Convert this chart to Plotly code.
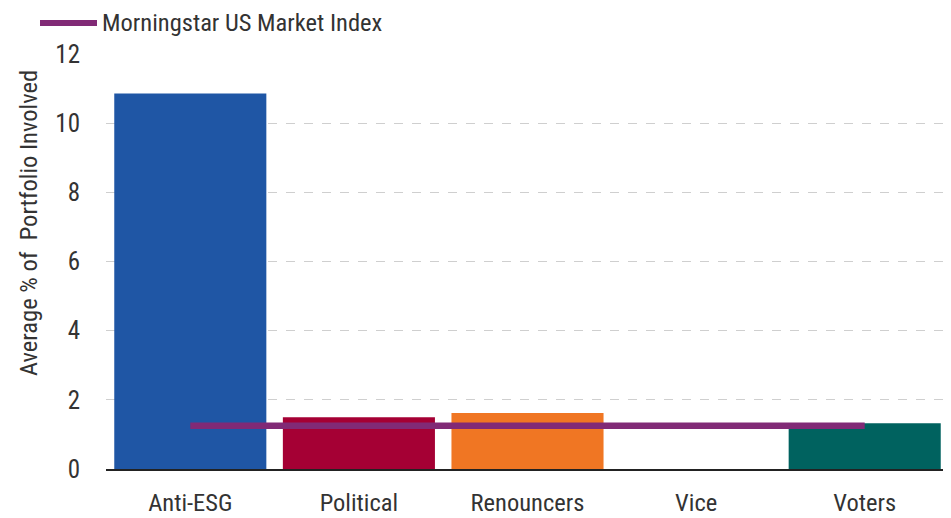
import plotly.graph_objects as go

categories = ["Anti-ESG", "Political", "Renouncers", "Vice", "Voters"]
portfolio_values = [10.86, 1.50, 1.62, 0.0, 1.32]
bar_colors = ["#1F56A5", "#A50034", "#F07623", "#FFFFFF", "#00625F"]
index_name = "Morningstar US Market Index"
index_values = [1.25, 1.25, 1.25, 1.25, 1.25]
y_ticks = [0, 2, 4, 6, 8, 10, 12]
y_title = "Average % of  Portfolio Involved"

FONT = "Liberation Sans Narrow, Roboto Condensed, DejaVu Sans Condensed, sans-serif"
TXT = "#333333"
LINE_COLOR = "#812A76"

# page body has an 8px margin, so the figure starts at (8, 8) in the window
OFF = 8
W, H = 951 - OFF, 518 - OFF
ML, MR, MT, MB = 106 - OFF, 2, 54 - OFF, 49
PW, PH = W - ML - MR, H - MT - MB

def px_x(p):
    return (p - OFF - ML) / PW

def px_y(p):
    return (H - MB - (p - OFF)) / PH

fig = go.Figure()
fig.add_trace(go.Bar(
    x=categories, y=portfolio_values, marker=dict(color=bar_colors, line=dict(width=0)),
    showlegend=False, hoverinfo="x+y"))
fig.add_trace(go.Scatter(
    x=categories, y=index_values, mode="lines", name=index_name, showlegend=False,
    line=dict(color=LINE_COLOR, width=6.5)))

# manual legend (line sample + label)
fig.add_shape(type="line", xref="paper", yref="paper",
              x0=px_x(40), x1=px_x(97), y0=px_y(23), y1=px_y(23),
              line=dict(color=LINE_COLOR, width=6))
fig.add_annotation(text=index_name, xref="paper", yref="paper",
                   x=px_x(100), y=px_y(22), xanchor="left", yanchor="middle",
                   showarrow=False, font=dict(family=FONT, size=24.5, color=TXT))
# y axis title
fig.add_annotation(text=y_title, xref="paper", yref="paper",
                   x=px_x(28), y=px_y(223), xanchor="center", yanchor="middle",
                   textangle=-90, showarrow=False,
                   font=dict(family=FONT, size=24.5, color=TXT))

fig.update_layout(
    width=W, height=H,
    margin=dict(l=ML, r=MR, t=MT, b=MB, autoexpand=False),
    paper_bgcolor="white", plot_bgcolor="white",
    bargap=0.098,
    font=dict(family=FONT, size=24, color=TXT),
    showlegend=False,
    xaxis=dict(showgrid=False, showline=True, linecolor="#222222", linewidth=1.5,
               ticks="", tickfont=dict(family=FONT, size=24.5, color=TXT),
               ticklabelstandoff=11, zeroline=False, fixedrange=True,
               automargin=False),
    yaxis=dict(range=[0, 12], tickvals=y_ticks, showgrid=True, gridcolor="#CFCFCF",
               griddash="dash", gridwidth=1, zeroline=False, showline=False,
               ticks="", tickfont=dict(family=FONT, size=25, color=TXT),
               ticklabelstandoff=25, automargin=False, fixedrange=True),
)
fig.write_html("out.html")
